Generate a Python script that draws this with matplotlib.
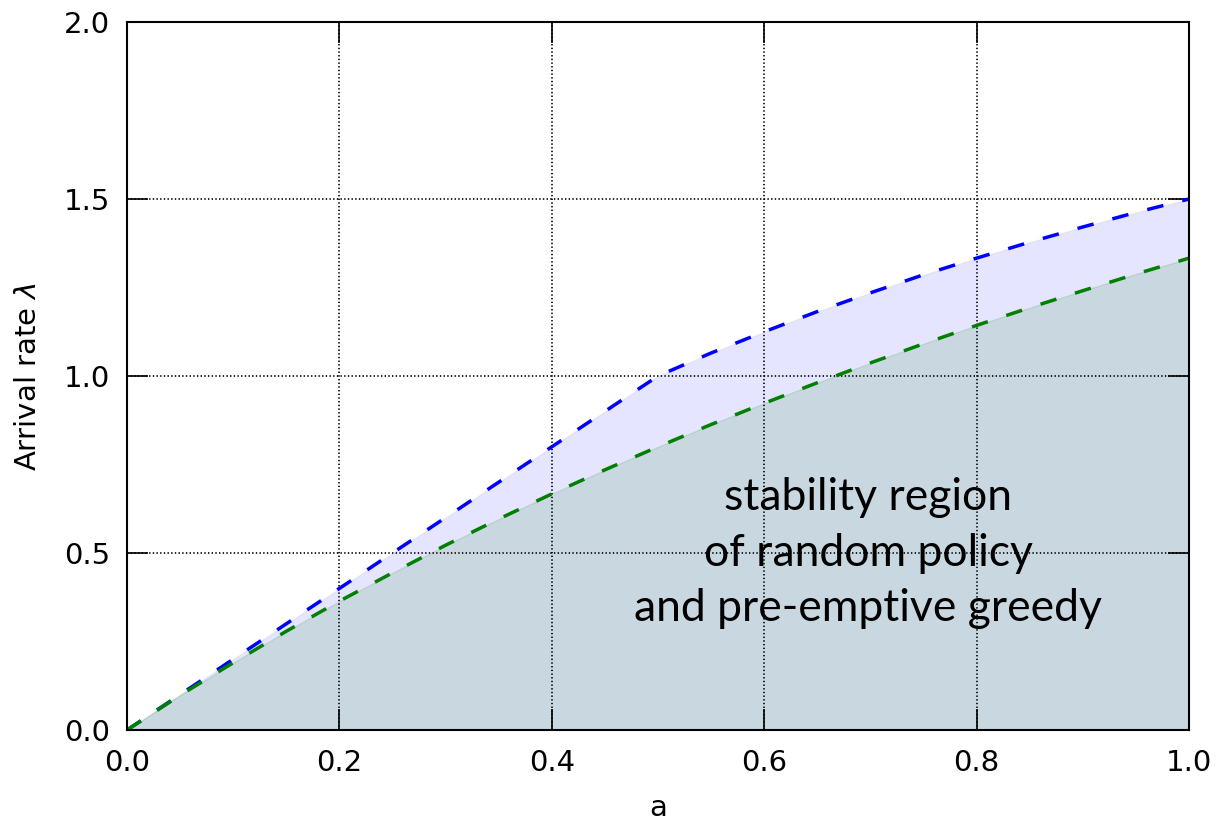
import matplotlib
matplotlib.use("Agg")
import matplotlib.pyplot as plt

a_vals = [0.0, 0.05, 0.1, 0.15, 0.2, 0.25, 0.3, 0.35, 0.4, 0.45, 0.5,
          0.55, 0.6, 0.65, 0.7, 0.75, 0.8, 0.85, 0.9, 0.95, 1.0]
greedy_rate = [0.0, 0.1, 0.2, 0.3, 0.4, 0.5, 0.6, 0.7, 0.8, 0.9, 1.0,
               1.065, 1.125, 1.182, 1.235, 1.286, 1.333, 1.378, 1.421, 1.462, 1.5]
random_rate = [0.0, 0.098, 0.19, 0.279, 0.364, 0.444, 0.522, 0.596, 0.667, 0.735, 0.8,
               0.863, 0.923, 0.981, 1.037, 1.091, 1.143, 1.193, 1.241, 1.288, 1.333]

x_ticks = [0.0, 0.2, 0.4, 0.6, 0.8, 1.0]
y_ticks = [0.0, 0.5, 1.0, 1.5, 2.0]
note = "stability region\nof random policy\nand pre-emptive greedy"

plt.rcParams["lines.scale_dashes"] = False
plt.rcParams["font.family"] = "DejaVu Sans"

fig = plt.figure(figsize=(12.16, 8.21), dpi=100)
ax = fig.add_axes([0.1044, 0.1108, 0.8734, 0.8624])

ax.fill_between(a_vals, 0, greedy_rate, facecolor="blue", alpha=0.1, edgecolor="#888888", linewidth=1.0)
ax.fill_between(a_vals, 0, random_rate, facecolor="green", alpha=0.12, edgecolor="green", linewidth=1.0)
ax.plot(a_vals, greedy_rate, color="blue", linestyle="--", dashes=(12, 14), linewidth=2.5)
ax.plot(a_vals, random_rate, color="green", linestyle="--", dashes=(12, 14), linewidth=2.5)

ax.text(0.698, 0.5, note, ha="center", va="center", fontsize=32, family="Lato", linespacing=1.45)

ax.set_xlim(0, 1)
ax.set_ylim(0, 2)
ax.set_xticks(x_ticks)
ax.set_yticks(y_ticks)
ax.set_xticklabels([f"{t:.1f}" for t in x_ticks])
ax.set_yticklabels([f"{t:.1f}" for t in y_ticks])
ax.tick_params(direction="in", length=15, width=1.2, labelsize=21, top=True, right=True)
ax.tick_params(axis="x", pad=14)
ax.tick_params(axis="y", pad=12)
ax.grid(True, linestyle=":", color="black", linewidth=1.2)
for s in ax.spines.values():
    s.set_linewidth(1.5)
ax.set_xlabel("a", fontsize=21, labelpad=12)
ax.set_ylabel(r"Arrival rate $\lambda$", fontsize=21, labelpad=16)

fig.savefig("out.png", dpi=100, facecolor="white")
